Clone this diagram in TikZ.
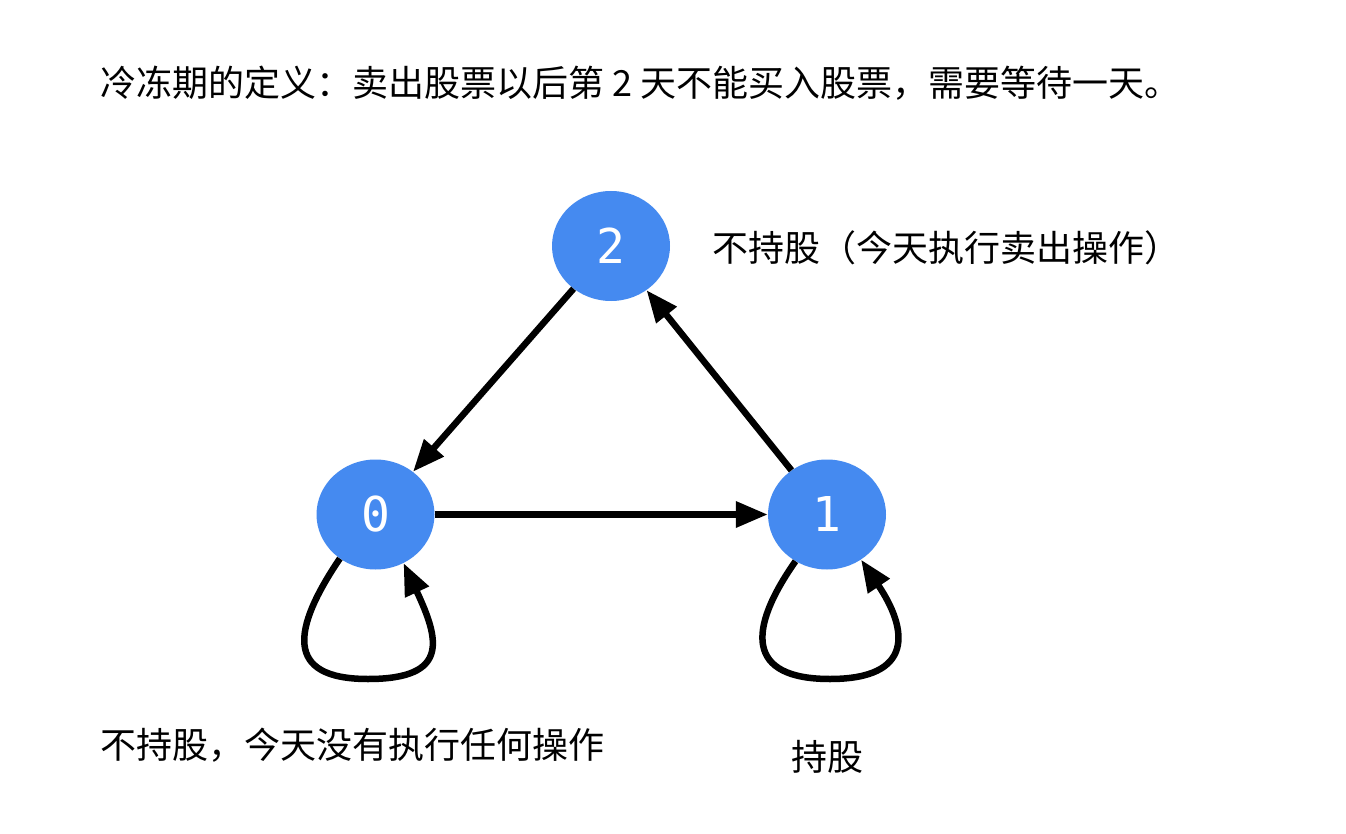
\documentclass[tikz,border=0pt]{standalone}
\usepackage{fontspec}
\setmainfont{Noto Sans CJK SC}
\newfontfamily\digitfont{DejaVu Sans Mono}
\usetikzlibrary{shapes.geometric,arrows.meta}
\definecolor{nodeblue}{RGB}{69,138,240}
\begin{document}
\begin{tikzpicture}[x=1pt,y=1pt,
  state/.style={ellipse,fill=nodeblue,draw=none,minimum width=118pt,minimum height=110pt,inner sep=0pt,
    text=white,font=\digitfont\fontsize{48}{48}\selectfont},
  lbl/.style={inner sep=0pt,font=\fontsize{36}{40}\selectfont,text=black},
  arr/.style={line width=6.5pt,-{Triangle[length=32pt,width=25pt]}}]
\useasboundingbox (0,0) rectangle (1346,-834);
\fill[white] (0,0) rectangle (1346,-834);
\node[lbl,anchor=west] (title) at (100,-83) {冷冻期的定义：卖出股票以后第 2 天不能买入股票，需要等待一天。};
\node[state] (n2) at (611,-246) {2};
\node[state] (n0) at (375.5,-514.5) {0};
\node[state] (n1) at (827,-514.5) {1};
\node[lbl,anchor=west] (l2) at (712,-248) {不持股（今天执行卖出操作）};
\node[lbl,anchor=west] (l0) at (100,-745) {不持股，今天没有执行任何操作};
\node[lbl] (l1) at (827,-757) {持股};
\coordinate (b0) at (368,-679);
\coordinate (b1) at (830,-679);
\draw[arr] (n2) -- (n0);
\draw[arr] (n1) -- (n2);
\draw[arr] (n0) -- (n1);
\draw[arr] (n0.-129) to[out=-124,in=180,looseness=1.75] (b0) to[out=0,in=-65,looseness=1.75] (n0.-60);
\draw[arr] (n1.-124) to[out=-125,in=180,looseness=1.75] (b1) to[out=0,in=-56,looseness=1.75] (n1.-53);
\end{tikzpicture}
\end{document}
